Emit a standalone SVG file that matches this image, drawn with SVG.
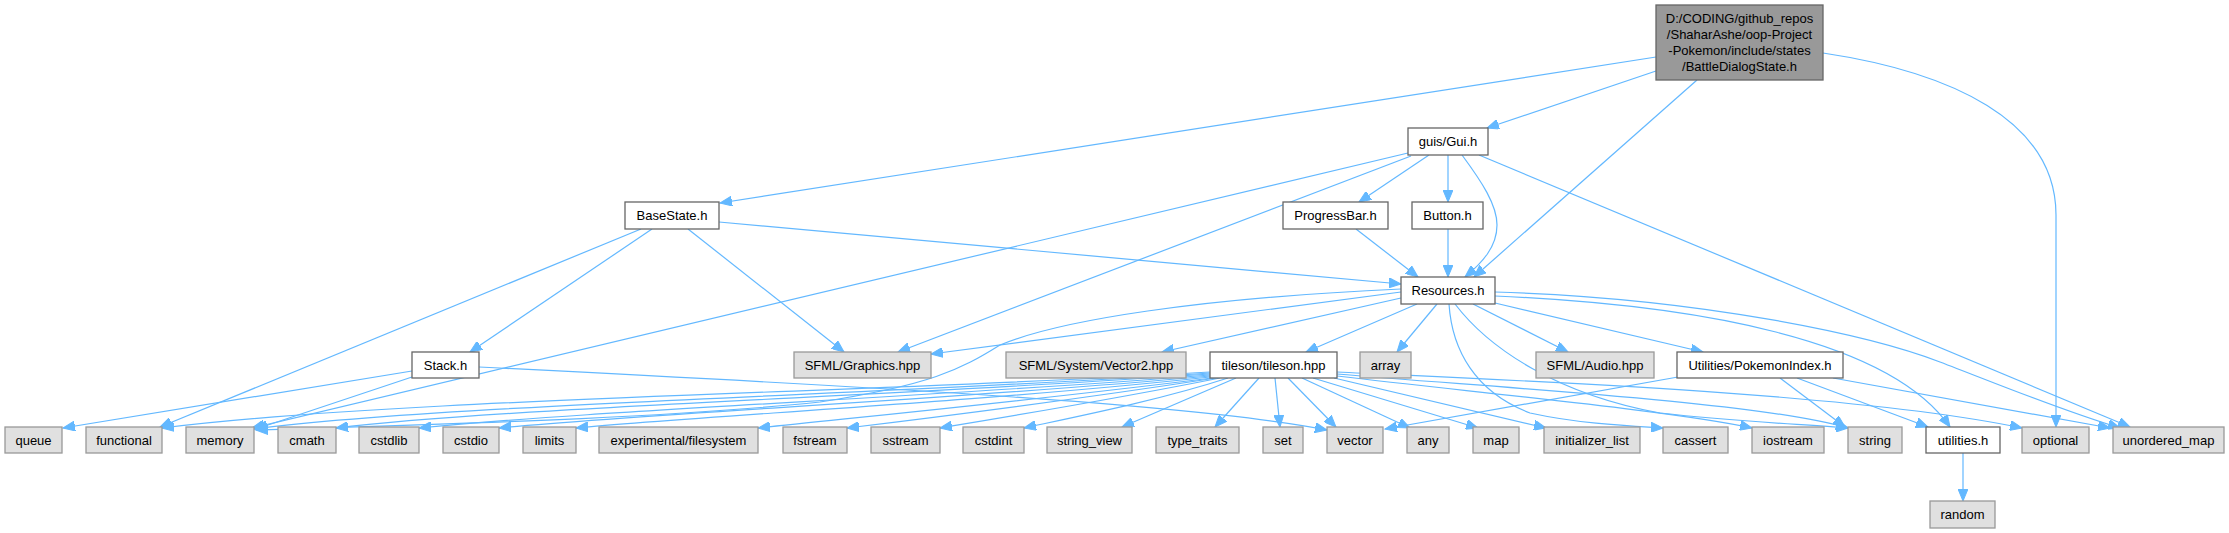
<svg xmlns="http://www.w3.org/2000/svg" width="2229" height="533" viewBox="0 0 2229 533">
<defs>
<style>
.n rect{stroke-width:1.3}
.w rect{fill:#ffffff;stroke:#666666}
.g rect{fill:#e0e0e0;stroke:#999999}
.r rect{fill:#999999;stroke:#666666}
text{font-family:"Liberation Sans",Arial,sans-serif;font-size:13px;fill:#000;text-anchor:middle}
#edges path{fill:none;stroke:#63b8ff;stroke-width:1.2;marker-end:url(#a)}
</style>
<marker id="a" markerWidth="13" markerHeight="10" refX="12" refY="5" orient="auto" markerUnits="userSpaceOnUse"><path d="M0,0 L12,5 L0,10 z" fill="#63b8ff" stroke="#63b8ff" stroke-width="1"/></marker>
</defs>
<rect width="2229" height="533" fill="#ffffff"/>
<g id="edges">
<path d="M1656,57 L720,203"/>
<path d="M1656,71 L1487,128"/>
<path d="M1697,80 L1474,277"/>
<path d="M1823,53 C1950,72 2056,120 2056,215 L2056,427"/>
<path d="M1429,155 L1359,202"/>
<path d="M1448,155 L1448,202"/>
<path d="M1462,155 C1482,182 1497,205 1497,225 C1497,247 1482,263 1465,277"/>
<path d="M1479,155 L2130,427"/>
<path d="M1411,156 L898,352"/>
<path d="M1408,153 L252,428"/>
<path d="M719,222 L1401,284"/>
<path d="M652,229 L470,352"/>
<path d="M688,229 L844,352"/>
<path d="M641,229 L160,427"/>
<path d="M1356,229 L1418,277"/>
<path d="M1448,229 L1448,277"/>
<path d="M412,371 L63,428"/>
<path d="M412,377 L256,429"/>
<path d="M479,367 C900,388 1200,405 1327,430"/>
<path d="M1401,292 L931,354"/>
<path d="M1401,289 C1200,298 1060,320 1000,345 C960,370 930,385 820,402 C650,420 400,425 256,430"/>
<path d="M1401,298 L1162,352"/>
<path d="M1417,304 L1306,352"/>
<path d="M1437,304 L1397,352"/>
<path d="M1473,304 L1568,352"/>
<path d="M1495,303 L1703,352"/>
<path d="M1495,292 C1700,298 1870,335 1940,362 C2000,385 2060,410 2120,428"/>
<path d="M1495,296 C1700,305 1890,340 1950,427"/>
<path d="M1449,304 C1452,350 1475,392 1530,413 C1580,424 1630,426 1663,428"/>
<path d="M1455,304 C1490,350 1560,395 1660,413 C1740,422 1800,424 1848,428"/>
<path d="M1210,372 C900,392 400,398 162,428"/>
<path d="M1210,373 C900,394 450,404 254,429"/>
<path d="M1210,374 C900,396 500,408 336,428"/>
<path d="M1210,375 C920,398 600,410 419,428"/>
<path d="M1210,376 C950,400 650,413 499,428"/>
<path d="M1210,377 C980,402 700,416 576,428"/>
<path d="M1212,378 C1020,402 850,418 758,428"/>
<path d="M1216,378 C1060,402 930,418 847,428"/>
<path d="M1220,378 C1110,400 1000,418 940,428"/>
<path d="M1228,378 C1160,400 1080,416 1024,428"/>
<path d="M1236,378 L1122,427"/>
<path d="M1259,378 L1215,427"/>
<path d="M1275,378 L1280,427"/>
<path d="M1288,378 L1336,427"/>
<path d="M1302,378 L1410,428"/>
<path d="M1313,378 L1478,428"/>
<path d="M1334,378 L1546,428"/>
<path d="M1337,376 C1500,395 1680,412 1752,428"/>
<path d="M1337,374 C1500,388 1760,402 1848,428"/>
<path d="M1337,372 C1500,380 1850,392 2022,428"/>
<path d="M1678,377 L1385,429"/>
<path d="M1780,378 L1845,427"/>
<path d="M1797,378 L1928,427"/>
<path d="M1833,378 L2110,428"/>
<path d="M1963,453 L1963,501"/>
</g>
<g id="node_top" class="n r"><rect x="1656" y="5" width="167" height="75"/><text x="1739.5" y="23">D:/CODING/github_repos</text><text x="1739.5" y="39">/ShaharAshe/oop-Project</text><text x="1739.5" y="55">-Pokemon/include/states</text><text x="1739.5" y="71">/BattleDialogState.h</text></g>
<g id="node_basestate" class="n w"><rect x="625" y="202" width="94" height="27"/><text x="672" y="220">BaseState.h</text></g>
<g id="node_gui" class="n w"><rect x="1408" y="128" width="80" height="27"/><text x="1448" y="146">guis/Gui.h</text></g>
<g id="node_progressbar" class="n w"><rect x="1283" y="202" width="105" height="27"/><text x="1335.5" y="220">ProgressBar.h</text></g>
<g id="node_button" class="n w"><rect x="1412" y="202" width="71" height="27"/><text x="1447.5" y="220">Button.h</text></g>
<g id="node_resources" class="n w"><rect x="1401" y="277" width="94" height="27"/><text x="1448" y="295">Resources.h</text></g>
<g id="node_stack" class="n w"><rect x="412" y="352" width="67" height="26"/><text x="445.5" y="370">Stack.h</text></g>
<g id="node_graphics" class="n g"><rect x="794" y="352" width="137" height="26"/><text x="862.5" y="370">SFML/Graphics.hpp</text></g>
<g id="node_vector2" class="n g"><rect x="1006" y="352" width="180" height="26"/><text x="1096" y="370">SFML/System/Vector2.hpp</text></g>
<g id="node_tileson" class="n w"><rect x="1210" y="352" width="127" height="26"/><text x="1273.5" y="370">tileson/tileson.hpp</text></g>
<g id="node_array" class="n g"><rect x="1360" y="352" width="51" height="26"/><text x="1385.5" y="370">array</text></g>
<g id="node_audio" class="n g"><rect x="1536" y="352" width="118" height="26"/><text x="1595" y="370">SFML/Audio.hpp</text></g>
<g id="node_pokemonindex" class="n w"><rect x="1677" y="352" width="166" height="26"/><text x="1760" y="370">Utilities/PokemonIndex.h</text></g>
<g id="node_queue" class="n g"><rect x="5" y="427" width="57" height="26"/><text x="33.5" y="445">queue</text></g>
<g id="node_functional" class="n g"><rect x="86" y="427" width="76" height="26"/><text x="124" y="445">functional</text></g>
<g id="node_memory" class="n g"><rect x="186" y="427" width="68" height="26"/><text x="220" y="445">memory</text></g>
<g id="node_cmath" class="n g"><rect x="278" y="427" width="58" height="26"/><text x="307" y="445">cmath</text></g>
<g id="node_cstdlib" class="n g"><rect x="359" y="427" width="60" height="26"/><text x="389" y="445">cstdlib</text></g>
<g id="node_cstdio" class="n g"><rect x="443" y="427" width="56" height="26"/><text x="471" y="445">cstdio</text></g>
<g id="node_limits" class="n g"><rect x="523" y="427" width="53" height="26"/><text x="549.5" y="445">limits</text></g>
<g id="node_filesystem" class="n g"><rect x="599" y="427" width="159" height="26"/><text x="678.5" y="445">experimental/filesystem</text></g>
<g id="node_fstream" class="n g"><rect x="783" y="427" width="64" height="26"/><text x="815" y="445">fstream</text></g>
<g id="node_sstream" class="n g"><rect x="871" y="427" width="69" height="26"/><text x="905.5" y="445">sstream</text></g>
<g id="node_cstdint" class="n g"><rect x="963" y="427" width="61" height="26"/><text x="993.5" y="445">cstdint</text></g>
<g id="node_string_view" class="n g"><rect x="1047" y="427" width="85" height="26"/><text x="1089.5" y="445">string_view</text></g>
<g id="node_type_traits" class="n g"><rect x="1156" y="427" width="83" height="26"/><text x="1197.5" y="445">type_traits</text></g>
<g id="node_set" class="n g"><rect x="1263" y="427" width="40" height="26"/><text x="1283" y="445">set</text></g>
<g id="node_vector" class="n g"><rect x="1327" y="427" width="56" height="26"/><text x="1355" y="445">vector</text></g>
<g id="node_any" class="n g"><rect x="1407" y="427" width="42" height="26"/><text x="1428" y="445">any</text></g>
<g id="node_map" class="n g"><rect x="1473" y="427" width="46" height="26"/><text x="1496" y="445">map</text></g>
<g id="node_initializer_list" class="n g"><rect x="1544" y="427" width="96" height="26"/><text x="1592" y="445">initializer_list</text></g>
<g id="node_cassert" class="n g"><rect x="1663" y="427" width="65" height="26"/><text x="1695.5" y="445">cassert</text></g>
<g id="node_iostream" class="n g"><rect x="1752" y="427" width="72" height="26"/><text x="1788" y="445">iostream</text></g>
<g id="node_string" class="n g"><rect x="1848" y="427" width="54" height="26"/><text x="1875" y="445">string</text></g>
<g id="node_utilities" class="n w"><rect x="1926" y="427" width="74" height="26"/><text x="1963" y="445">utilities.h</text></g>
<g id="node_optional" class="n g"><rect x="2022" y="427" width="67" height="26"/><text x="2055.5" y="445">optional</text></g>
<g id="node_unordered_map" class="n g"><rect x="2113" y="427" width="111" height="26"/><text x="2168.5" y="445">unordered_map</text></g>
<g id="node_random" class="n g"><rect x="1930" y="501" width="65" height="27"/><text x="1962.5" y="519">random</text></g>
</svg>
